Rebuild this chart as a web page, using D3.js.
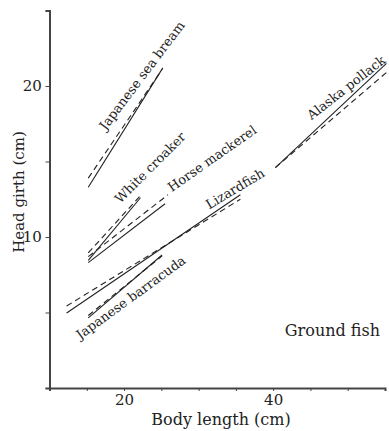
<!DOCTYPE html>
<html><head><meta charset="utf-8">
<script src="https://cdn.jsdelivr.net/npm/d3@7"></script>
<style>body{margin:0;background:#fff}svg{display:block}text{font-family:"DejaVu Serif",serif;fill:#222}</style>
</head><body><svg id="c" width="389" height="431"></svg>
<script>
const species = ["Japanese sea bream","White croaker","Horse mackerel","Lizardfish","Alaska pollack","Japanese barracuda"];
const lengthStart = [15.2, 15.2, 15.2, 12.3, 40.3, 15.2];
const lengthEnd   = [25.2, 22.2, 25.5, 35.6, 55.2, 25.1];
const dashedLengthEnd = [25.1, 22.4, 25.9, 35.6, 55.2, 25.1];
const girthSolidStart  = [13.3, 8.45, 8.3, 4.97, 14.6, 4.64];
const girthSolidEnd    = [21.2, 12.6, 12.2, 12.8, 21.5, 8.81];
const girthDashedStart = [13.9, 8.95, 8.7, 5.43, 14.6, 4.8];
const girthDashedEnd   = [21.1, 12.85, 12.8, 12.5, 20.9, 8.75];
const xTicks = [10,15,20,25,30,35,40,45,50,55];
const xTickLabels = ["20","40"];
const yTicks = [0,5,10,15,20,25];
const yTickLabels = ["10","20"];
// label placement in data units (center) and angle in degrees
const labelX = [22.4, 23.5, 31.8, 34.9, 49.8, 20.9];
const labelY = [20.7, 14.6, 15.2, 13.2, 19.9, 6.0];
const labelAngle = [-53, -45, -35, -31, -38, -36];

const svg = d3.select("#c");
const x = d3.scaleLinear().domain([10,55]).range([49.5,385]);
const y = d3.scaleLinear().domain([0,25]).range([388,10.5]);

// axes
const xAxis = d3.axisBottom(x).tickValues(xTicks).tickSize(3)
  .tickFormat(d => xTickLabels.includes(String(d)) ? String(d) : "");
const gx = svg.append("g").attr("transform", `translate(0,${y(0)})`).call(xAxis);
gx.select(".domain").attr("stroke","#444").attr("stroke-width",2);
gx.selectAll(".tick line").attr("stroke","#444");
gx.selectAll(".tick text").attr("font-family","DejaVu Serif").attr("font-size",15).attr("fill","#222").attr("dy","0.72em");

const yAxis = d3.axisLeft(y).tickValues(yTicks).tickSize(4)
  .tickFormat(d => yTickLabels.includes(String(d)) ? String(d) : "");
const gy = svg.append("g").attr("transform", `translate(${x(10)},0)`).call(yAxis);
gy.select(".domain").attr("stroke","#444").attr("stroke-width",2);
gy.selectAll(".tick line").attr("stroke","#444");
gy.selectAll(".tick text").attr("font-family","DejaVu Serif").attr("font-size",15).attr("fill","#222").attr("dx","-0.05em");

svg.append("text").attr("x",221).attr("y",425).attr("text-anchor","middle").attr("font-size",16).text("Body length (cm)");
svg.append("text").attr("transform","translate(19,192) rotate(-90)").attr("text-anchor","middle").attr("dominant-baseline","central").attr("font-size",15).text("Head girth (cm)");
svg.append("text").attr("x",380).attr("y",336).attr("text-anchor","end").attr("font-size",16).text("Ground fish");

const line = d3.line().x(d => x(d[0])).y(d => y(d[1]));
species.forEach((s,i) => {
  svg.append("path").datum([[lengthStart[i], girthSolidStart[i]], [lengthEnd[i], girthSolidEnd[i]]])
    .attr("d", line).attr("fill","none").attr("stroke","#222").attr("stroke-width",1.1);
  svg.append("path").datum([[lengthStart[i], girthDashedStart[i]], [dashedLengthEnd[i], girthDashedEnd[i]]])
    .attr("d", line).attr("fill","none").attr("stroke","#222").attr("stroke-width",1.1).attr("stroke-dasharray","6,4");
  svg.append("text")
    .attr("transform", `translate(${x(labelX[i])},${y(labelY[i])}) rotate(${labelAngle[i]})`)
    .attr("text-anchor","middle").attr("dominant-baseline","central").attr("font-size",13).text(s);
});
</script></body></html>
